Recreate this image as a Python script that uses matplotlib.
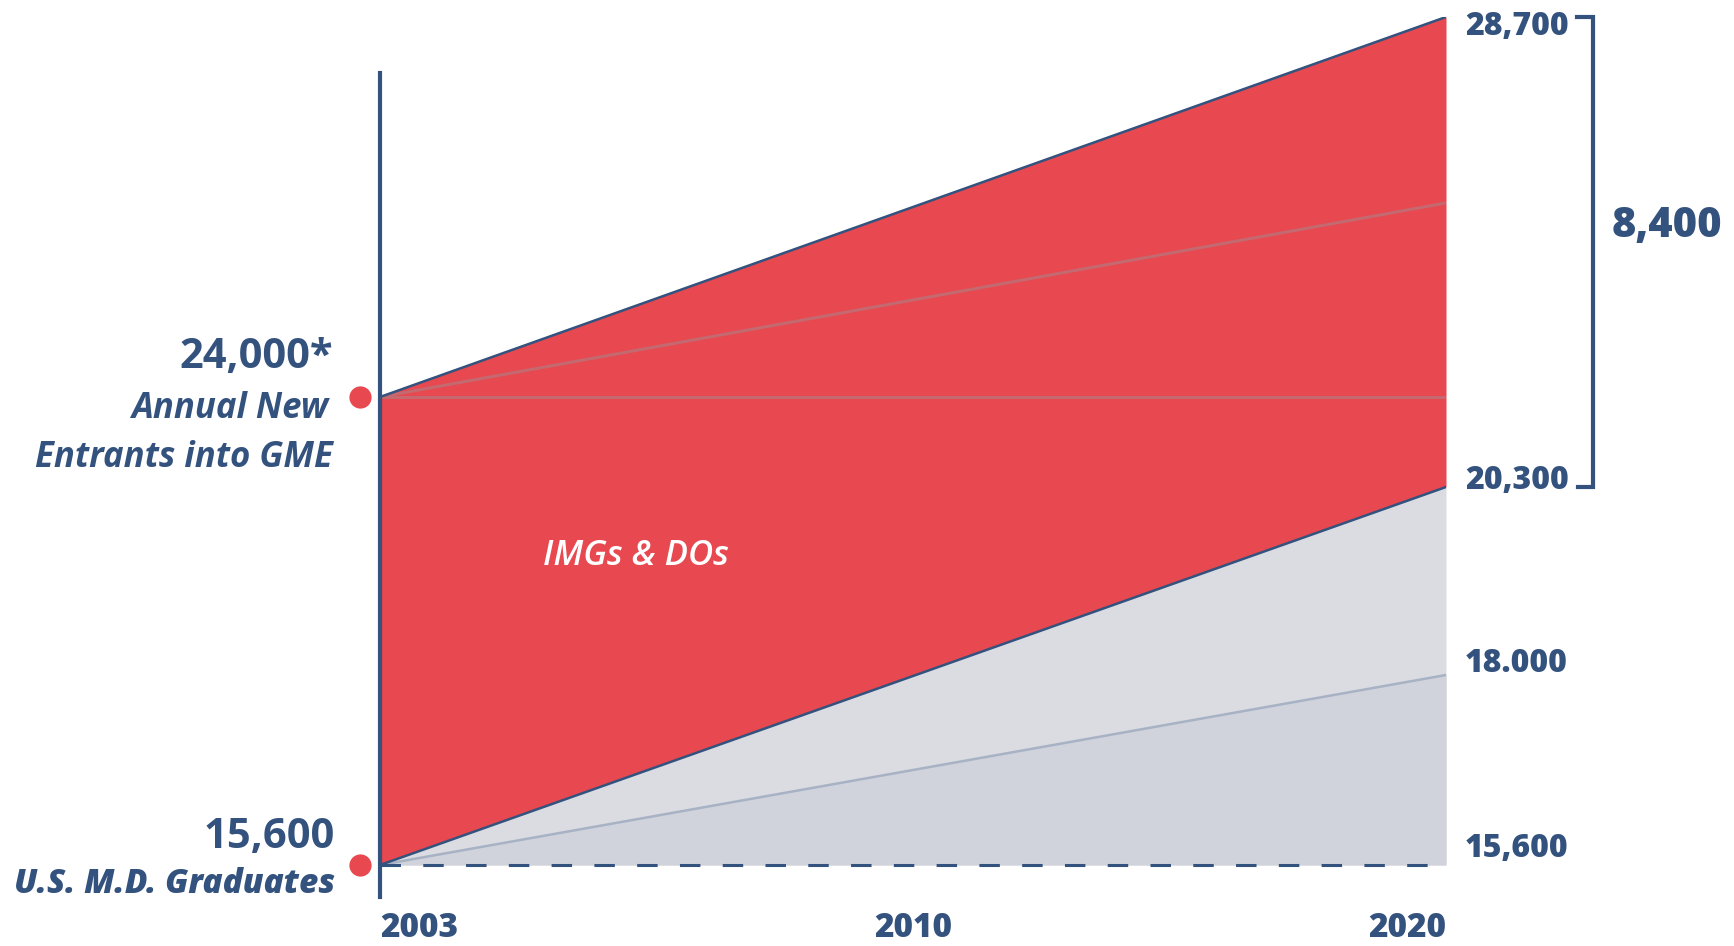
import matplotlib
matplotlib.use("Agg")
import matplotlib.pyplot as plt
import matplotlib.transforms as mtransforms
import numpy as np

# schematic chart: new entrants into GME vs U.S. M.D. graduates, 2003 -> 2020

YEARS = ["2003", "2010", "2020"]
ENDS = [0, 2]                      # index of first / last year
ENTRANTS = [24000, 28700]          # annual new entrants into GME
ENTRANTS_BASE = [24000, 26400]
ENTRANTS_FLAT = [24000, 24000]
MD_GRADS = [15600, 20300]          # U.S. M.D. graduates
MD_BASE = [15600, 18000]
MD_FLAT = [15600, 15600]
RIGHT_VALUES = [28700, 20300, 18000, 15600]
RIGHT_LABELS = ["28,700", "20,300", "18.000", "15,600"]
GAP_LABEL = "8,400"

RED = "#e8484f"
BLUE = "#34527e"
GREY_HI = "#dbdce2"
GREY_LO = "#d0d3dc"
GREY_LINE = "#a8b2c5"
RED_LINE = "#c4696f"
FONT = ["Open Sans", "DejaVu Sans"]

# the picture is not drawn to scale, so squash the value axis piecewise
Y_KNOTS = [0, 15600, 18000, 20300, 24000, 28700, 60000]
Y_POS = [-1235, 0, 190, 378, 468, 848, 3380]


def fwd(v):
    return np.interp(v, Y_KNOTS, Y_POS)


def inv(p):
    return np.interp(p, Y_POS, Y_KNOTS)


plt.rcParams['font.family'] = FONT

fig = plt.figure(figsize=(17.34, 9.46), dpi=100)
ax = fig.add_axes([380 / 1734, 81 / 946, 1066 / 1734, 848 / 946])
ax.set_yscale('function', functions=(fwd, inv))
ax.set_xlim(0, 2)
ax.set_ylim(15600, 28700)
for s in ax.spines.values():
    s.set_visible(False)
ax.set_yticks([])

# areas
ax.fill_between(ENDS, MD_GRADS, ENTRANTS, color=RED, lw=0, zorder=1)
ax.fill_between(ENDS, MD_FLAT, MD_GRADS, color=GREY_HI, lw=0, zorder=1)
ax.fill_between(ENDS, MD_FLAT, MD_BASE, color=GREY_LO, lw=0, zorder=1)

# lines
ax.plot(ENDS, ENTRANTS_FLAT, color=RED_LINE, lw=2.2, zorder=2)
ax.plot(ENDS, ENTRANTS_BASE, color=RED_LINE, lw=2.2, zorder=2)
ax.plot(ENDS, MD_BASE, color=GREY_LINE, lw=1.8, zorder=2)
ax.plot(ENDS, ENTRANTS, color=BLUE, lw=1.8, zorder=3)
ax.plot(ENDS, MD_GRADS, color=BLUE, lw=1.8, zorder=3)
ax.plot(ENDS, MD_FLAT, color=BLUE, lw=2.2, dashes=(6.7, 7.3), dash_capstyle='butt',
        zorder=3, clip_on=False)

# left axis line
ax.axvline(0, ymin=-0.038, ymax=0.934, color=BLUE, lw=3, clip_on=False, zorder=4)

# red dots just left of the axis
shift = mtransforms.ScaledTranslation(-0.2, 0, fig.dpi_scale_trans)
ax.plot([ENDS[0], ENDS[0]], [ENTRANTS[0], MD_GRADS[0]], 'o', color=RED, ms=16,
        mec='none', transform=ax.transData + shift, clip_on=False, zorder=5)

# left labels
ax.annotate(f"{ENTRANTS[0]:,}*", (0, ENTRANTS[0]), xytext=(-47, 29),
            textcoords='offset pixels', ha='right', va='baseline',
            fontsize=30, fontweight='bold', color=BLUE)
ax.annotate("Annual New", (0, ENTRANTS[0]), xytext=(-52, -21),
            textcoords='offset pixels', ha='right', va='baseline',
            fontsize=25, fontweight='bold', fontstyle='italic', color=BLUE)
ax.annotate("Entrants into GME", (0, ENTRANTS[0]), xytext=(-47, -70),
            textcoords='offset pixels', ha='right', va='baseline',
            fontsize=25, fontweight='bold', fontstyle='italic', color=BLUE)
ax.annotate(f"{MD_GRADS[0]:,}", (0, MD_GRADS[0]), xytext=(-45, 17),
            textcoords='offset pixels', ha='right', va='baseline',
            fontsize=30, fontweight='bold', color=BLUE)
ax.annotate("U.S. M.D. Graduates", (0, MD_GRADS[0]), xytext=(-45, -28),
            textcoords='offset pixels', ha='right', va='baseline',
            fontsize=24, fontweight='heavy', fontstyle='italic', color=BLUE)

# right labels
right_dy = [-18, -2, 3, 8]
for v, lab, dy in zip(RIGHT_VALUES, RIGHT_LABELS, right_dy):
    ax.annotate(lab, (2, v), xytext=(19, dy), textcoords='offset pixels',
                ha='left', va='baseline', fontsize=23, fontweight='heavy',
                color=BLUE, annotation_clip=False)

# bracket for the gap
bt = mtransforms.blended_transform_factory(ax.transAxes, ax.transData)
ax.plot([1.1229, 1.1379, 1.1379, 1.1238],
        [ENTRANTS[1], ENTRANTS[1], MD_GRADS[1], MD_GRADS[1]],
        color=BLUE, lw=3, transform=bt, clip_on=False, solid_joinstyle='miter')
ax.text(1.1557, 0.7406, GAP_LABEL, transform=ax.transAxes, ha='left', va='baseline',
        fontsize=30, fontweight='heavy', color=BLUE)

ax.text(0.153, 0.354, "IMGs & DOs", transform=ax.transAxes, ha='left', va='baseline',
        fontsize=25, fontweight='semibold', fontstyle='italic', color='white')

# years
ax.set_xticks([0, 1, 2], YEARS)
ax.tick_params(axis='x', length=0, pad=33, labelsize=24, labelcolor=BLUE)
ticklabels = ax.get_xticklabels()
for t in ticklabels:
    t.set_fontweight('heavy')
ticklabels[0].set_ha('left')
ticklabels[-1].set_ha('right')

fig.savefig("out.png", dpi=100, facecolor='white')
